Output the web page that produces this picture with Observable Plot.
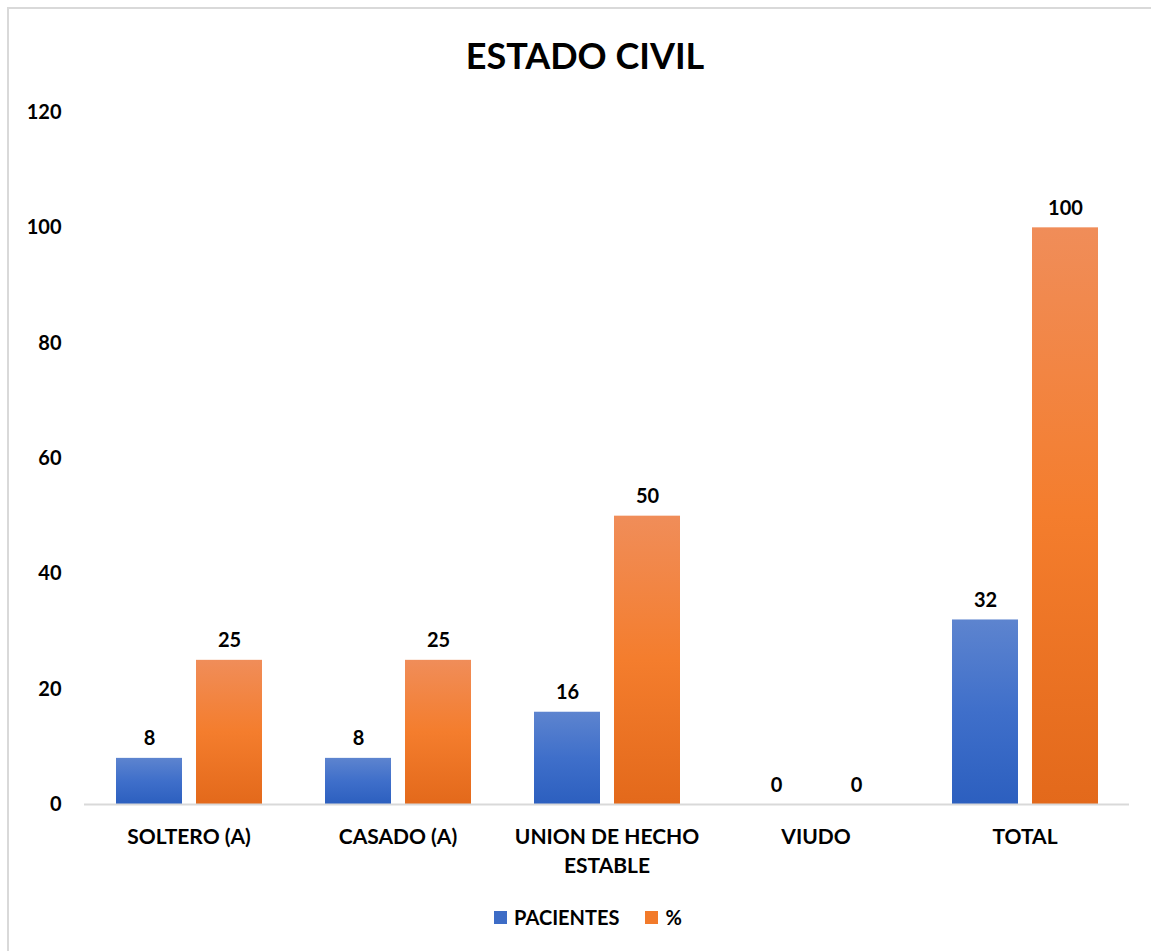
<!DOCTYPE html>
<html>
<head>
<meta charset="utf-8">
<script src="https://cdn.jsdelivr.net/npm/d3@7"></script>
<script src="https://cdn.jsdelivr.net/npm/@observablehq/plot@0.6"></script>
<style>
  body { margin: 0; background: #fff; font-family: Lato, "Open Sans", sans-serif; }
  #frame { position: absolute; left: 7px; top: 7px; width: 1160px; height: 960px; border: 2px solid #d9d9d9; }
  #chart { position: absolute; left: 0; top: 0; }
  #title { position: absolute; left: 0; width: 1170px; top: 33px; text-align: center;
           font-size: 36px; font-weight: 700; color: #000; }
  #legend { position: absolute; left: 0; width: 1176px; top: 905px; display: flex; justify-content: center;
            align-items: center; font-size: 20px; font-weight: 700; color: #000; }
  #legend .sw { display: inline-block; width: 13px; height: 13px; margin-right: 7px; }
  #legend .item { display: flex; align-items: center; margin: 0 13px; }
</style>
</head>
<body>
<div id="frame"></div>
<div id="title">ESTADO CIVIL</div>
<div id="chart"></div>
<div id="legend">
  <span class="item"><span class="sw" style="background:#3d6cc6"></span>PACIENTES</span>
  <span class="item"><span class="sw" style="background:#f27a2a"></span>%</span>
</div>
<script>
// Estado civil de los pacientes: número y porcentaje por categoría
const categorias = ["SOLTERO (A)", "CASADO (A)", "UNION DE HECHO\nESTABLE", "VIUDO", "TOTAL"];
const series = ["PACIENTES", "%"];
const pacientes = [8, 8, 16, 0, 32];
const porcentaje = [25, 25, 50, 0, 100];
const ticksY = [0, 20, 40, 60, 80, 100, 120];

const filas = categorias.flatMap((c, i) => [
  {categoria: c, serie: series[0], valor: pacientes[i]},
  {categoria: c, serie: series[1], valor: porcentaje[i]}
]);
const filasPac = filas.filter(d => d.serie === series[0] && d.valor > 0);
const filasPct = filas.filter(d => d.serie === series[1] && d.valor > 0);
const sombra = {filter: "drop-shadow(1px 0px 2px rgba(0,0,0,0.35))"};

const plot = Plot.plot({
  width: 1151,
  height: 951,
  marginTop: 112,
  marginBottom: 147,
  marginLeft: 83,
  marginRight: 21,
  style: {fontFamily: "Lato, 'Open Sans', sans-serif", fontSize: "20px", fontWeight: "bold", color: "#000", background: "transparent"},
  fx: {domain: categorias, padding: 0, axis: null},
  x: {domain: series, paddingInner: 0.175, paddingOuter: 0.38, axis: null},
  y: {domain: [0, 120], axis: null},
  marks: [
    Plot.axisY({ticks: ticksY, tickSize: 0, tickPadding: 23, fontSize: 20, fontWeight: "bold", label: null}),
    Plot.barY(filasPac, {fx: "categoria", x: "serie", y: "valor", fill: "url(#gradAzul)", stroke: "none", style: sombra}),
    Plot.barY(filasPct, {fx: "categoria", x: "serie", y: "valor", fill: "url(#gradNaranja)", stroke: "none", style: sombra}),
    Plot.ruleY([0], {stroke: "#d9d9d9", strokeWidth: 2}),
    Plot.text(filas, {fx: "categoria", x: "serie", y: "valor", text: d => String(d.valor),
      lineAnchor: "bottom", dy: -13, fill: "#000", fontWeight: "bold", fontSize: 20}),
    Plot.text(categorias, {fx: d => d, text: d => d, frameAnchor: "bottom", lineAnchor: "top",
      dy: 19, lineHeight: 1.38, fill: "#000", fontWeight: "bold", fontSize: 21})
  ]
});

// Gradientes verticales de las barras (claro arriba, oscuro abajo)
const ns = "http://www.w3.org/2000/svg";
const defs = document.createElementNS(ns, "defs");
function gradiente(id, stops) {
  const g = document.createElementNS(ns, "linearGradient");
  g.setAttribute("id", id);
  g.setAttribute("x1", "0"); g.setAttribute("y1", "0");
  g.setAttribute("x2", "0"); g.setAttribute("y2", "1");
  for (const [off, col] of stops) {
    const s = document.createElementNS(ns, "stop");
    s.setAttribute("offset", off);
    s.setAttribute("stop-color", col);
    g.appendChild(s);
  }
  defs.appendChild(g);
}
gradiente("gradAzul", [["0", "#5d84cf"], ["0.5", "#3f6fca"], ["1", "#2c5fbf"]]);
gradiente("gradNaranja", [["0", "#f08d59"], ["0.5", "#f47d2d"], ["1", "#e3691b"]]);
plot.insertBefore(defs, plot.firstChild);

document.getElementById("chart").appendChild(plot);
</script>
</body>
</html>
